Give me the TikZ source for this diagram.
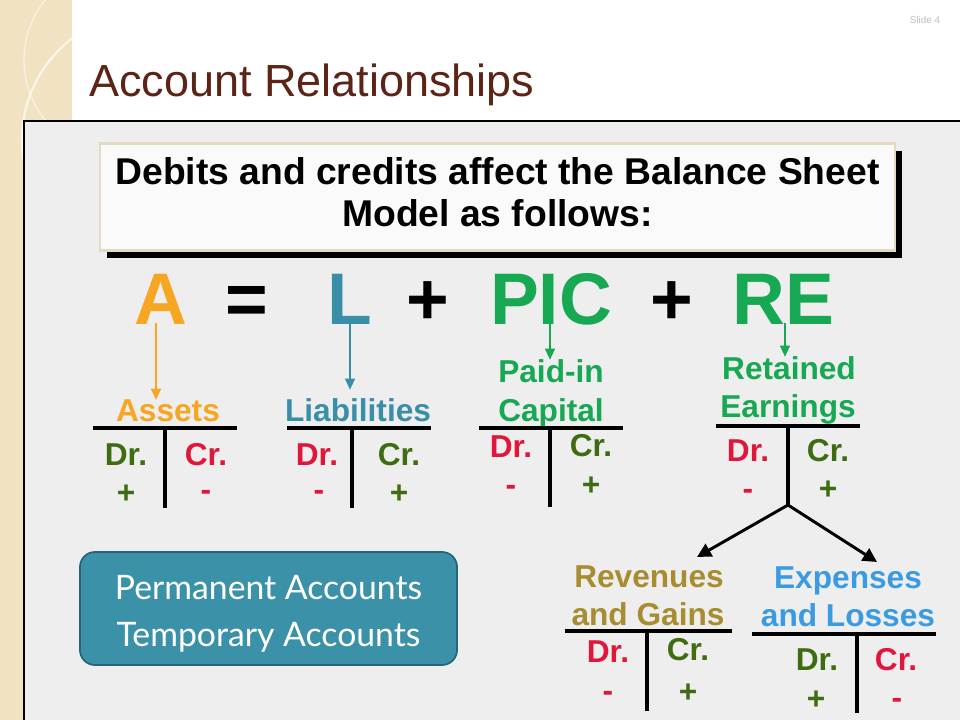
\documentclass[tikz,border=0pt]{standalone}
\usepackage{fontspec}
\setmainfont{Liberation Sans}
\newfontfamily\boxfont{Lato}
\usetikzlibrary{arrows.meta,positioning,calc,shadows}

\definecolor{strip}{RGB}{241,227,193}
\definecolor{panel}{RGB}{238,238,238}
\definecolor{titlebrown}{RGB}{92,36,22}
\definecolor{cA}{RGB}{246,166,35}
\definecolor{cL}{RGB}{58,143,168}
\definecolor{cE}{RGB}{22,168,82}
\definecolor{drgreen}{RGB}{62,108,16}
\definecolor{crred}{RGB}{224,22,58}
\definecolor{revgold}{RGB}{168,140,48}
\definecolor{expblue}{RGB}{58,155,226}
\definecolor{boxteal}{RGB}{58,145,168}
\definecolor{boxedge}{RGB}{38,100,120}
\definecolor{hdredge}{RGB}{226,219,192}
\definecolor{hdrfill}{RGB}{250,250,250}

\begin{document}
\begin{tikzpicture}[x=0.025cm, y=-0.025cm,
    title/.style={font=\fontsize{32}{32}\selectfont, anchor=base west, inner sep=0pt},
    hdr/.style={draw=hdredge, line width=1.5pt, fill=hdrfill, minimum width=19.875cm,
                minimum height=2.675cm, inner sep=0pt,
                drop shadow={shadow xshift=5pt, shadow yshift=-5.5pt, fill=black, opacity=1}},
    hdrtext/.style={align=center, inner sep=0pt, font=\fontsize{26.5}{30}\selectfont\bfseries},
    eq/.style={font=\fontsize{52}{52}\selectfont\bfseries, anchor=base, inner sep=0pt},
    lbl/.style={font=\fontsize{22.5}{22.5}\selectfont\bfseries, anchor=base, inner sep=0pt},
    side/.style={font=\fontsize{22.5}{22.5}\selectfont\bfseries, anchor=base, inner sep=0pt},
    tbar/.style={line width=3pt},
    arr/.style={-{Triangle[length=8pt, width=7pt]}, line width=1.4pt},
    brarr/.style={-{Triangle[length=10pt, width=10pt]}, line width=2.1pt},
    permbox/.style={draw=boxedge, line width=1.2pt, fill=boxteal, rounded corners=0.375cm,
                minimum width=9.425cm, minimum height=2.825cm, inner sep=0pt},
    permtext/.style={align=center, text=white, inner sep=0pt,
                font=\boxfont\fontsize{24}{33.4}\selectfont},
]
\useasboundingbox (0,0) rectangle (960,720);
\fill[white] (0,0) rectangle (960,720);

% Slide background
\fill[strip] (0,0) rectangle (72,720);
\begin{scope}
    \clip (0,0) rectangle (72,720);
    \draw[white, line width=1.5pt, opacity=0.7] (150,140) circle (3.2cm);
    \draw[white, line width=1pt, opacity=0.5] (120,60) circle (2.4cm);
\end{scope}
\fill[panel] (24,121) rectangle (960,720);
\draw[line width=1pt] (24,720) -- (24,121) -- (960,121);

% Title
\node[font=\fontsize{7}{7}\selectfont, text=black!25, inner sep=0pt] (slideno) at (925,20) {Slide 4};
\node[title, text=titlebrown] (titletext) at (89,97) {Account Relationships};

% Header box
\node[hdr] (head) at (497.5,197) {};
\node[hdrtext] (headtext) at (497.5,192.5) {Debits and credits affect the Balance Sheet\\Model as follows:};

% Equation
\node[eq, text=cA] (eqA) at (161,325) {A};
\node[eq] (eqEq) at (247,325) {=};
\node[eq, text=cL] (eqL) at (350,325) {L};
\node[eq] (eqPlusA) at (428,325) {+};
\node[eq, text=cE] (eqPIC) at (551,325) {PIC};
\node[eq] (eqPlusB) at (672,325) {+};
\node[eq, text=cE] (eqRE) at (783,325) {RE};

% Account titles
\node[lbl, text=cA] (assets) at (168,422) {Assets};
\node[lbl, text=cL] (liab) at (358,422) {Liabilities};
\node[lbl, text=cE] (paid) at (551,383) {Paid-in};
\node[lbl, text=cE] (capital) at (551,422) {Capital};
\node[lbl, text=cE] (retained) at (789,380) {Retained};
\node[lbl, text=cE] (earnings) at (788,418) {Earnings};
\node[lbl, text=revgold] (revenues) at (649,587) {Revenues};
\node[lbl, text=revgold] (gains) at (648,625) {and Gains};
\node[lbl, text=expblue] (expenses) at (848,588) {Expenses};
\node[lbl, text=expblue] (losses) at (848,626) {and Losses};

% Arrows from the equation
\coordinate (aStart) at ($(eqA.base)+(-5,-2)$);
\draw[arr, cA] (aStart) -- (aStart |- assets.north);
\draw[arr, cL] ($(eqL.base)+(0,-2)$) -- ($(eqL.base |- liab.north)+(0,-9)$);
\draw[arr, cE] ($(eqPIC.base)+(-1,-2)$) -- ($(eqPIC.base |- paid.north)+(-1,0)$);
\draw[arr, cE] ($(eqRE.base)+(2,-2)$) -- ($(eqRE.base |- retained.north)+(2,0)$);

% T-accounts
\draw[tbar] (93,428) -- (237,428);
\draw[tbar] (165,428) -- (165,508);
\draw[tbar] (287,428) -- (431,428);
\draw[tbar] (352,428) -- (352,508);
\draw[tbar] (479,428) -- (623,428);
\draw[tbar] (550,428) -- (550,507);
\draw[tbar] (716,426) -- (860,426);
\draw[tbar] (788,426) -- (788,506);
\draw[tbar] (565,631) -- (732,631);
\draw[tbar] (647,631) -- (647,711);
\draw[tbar] (752,634) -- (936,634);
\draw[tbar] (857,634) -- (857,713);

% Assets
\node[side, text=drgreen] (asDr) at (126,466) {Dr.};
\node[side, text=crred] (asCr) at (206,466) {Cr.};
\node[side, text=drgreen] (asDrSign) at (126,504) {+};
\node[side, text=crred] (asCrSign) at (206,501) {-};
% Liabilities
\node[side, text=crred] (liDr) at (317,466) {Dr.};
\node[side, text=drgreen] (liCr) at (399,466) {Cr.};
\node[side, text=crred] (liDrSign) at (319,501) {-};
\node[side, text=drgreen] (liCrSign) at (399,504) {+};
% Paid-in capital
\node[side, text=crred] (pcDr) at (511,458) {Dr.};
\node[side, text=drgreen] (pcCr) at (591,457) {Cr.};
\node[side, text=crred] (pcDrSign) at (511,496) {-};
\node[side, text=drgreen] (pcCrSign) at (591,496) {+};
% Retained earnings
\node[side, text=crred] (reDr) at (748,462) {Dr.};
\node[side, text=drgreen] (reCr) at (828,462) {Cr.};
\node[side, text=crred] (reDrSign) at (748,500) {-};
\node[side, text=drgreen] (reCrSign) at (828,500) {+};
% Revenues and gains
\node[side, text=crred] (rgDr) at (608,662) {Dr.};
\node[side, text=drgreen] (rgCr) at (688,660) {Cr.};
\node[side, text=crred] (rgDrSign) at (608,701) {-};
\node[side, text=drgreen] (rgCrSign) at (688,702) {+};
% Expenses and losses
\node[side, text=drgreen] (elDr) at (817,670) {Dr.};
\node[side, text=crred] (elCr) at (896,670) {Cr.};
\node[side, text=drgreen] (elDrSign) at (816,709) {+};
\node[side, text=crred] (elCrSign) at (897,708) {-};

% Split of retained earnings
\coordinate (reFoot) at (788,505);
\coordinate (revTip) at (697,557);
\coordinate (expTip) at (877,562);
\draw[brarr] (reFoot) -- (revTip);
\draw[brarr] (reFoot) -- (expTip);

% Account types
\node[permbox] (perm) at (268.5,608.5) {};
\node[permtext] (permtext) at (268.5,614) {Permanent Accounts\\Temporary Accounts};
\end{tikzpicture}
\end{document}
